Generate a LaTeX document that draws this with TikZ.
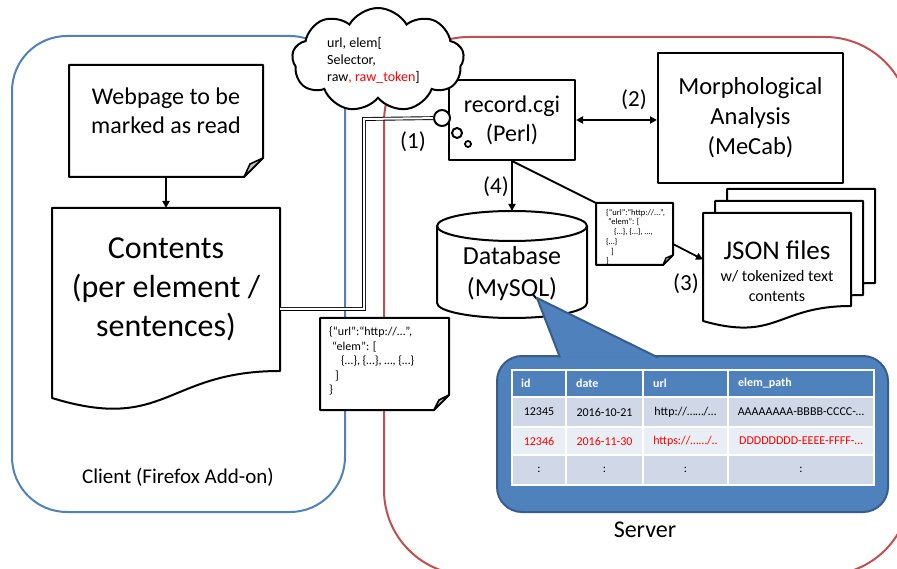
\documentclass[tikz,border=0pt]{standalone}
\usepackage{fontspec}
\setmainfont{Carlito}
\usetikzlibrary{calc,shapes.symbols,arrows.meta}
\definecolor{cblue}{HTML}{4F81BD}
\definecolor{cred}{HTML}{C0504D}
\definecolor{cdark}{HTML}{385D8A}
\definecolor{rowA}{HTML}{D0D8E8}
\definecolor{rowB}{HTML}{E9EDF4}
\definecolor{foldgray}{HTML}{BFBFBF}
\definecolor{tred}{HTML}{FF0000}
\newcommand{\myfs}[2]{\fontsize{#1}{#2}\selectfont}
\begin{document}
\begin{tikzpicture}[x=1pt,y=-1pt,
  outline/.style={draw=black, line width=2pt, fill=white, line join=round},
  anchorbox/.style={inner sep=0pt, outer sep=0pt, draw=none},
  foldst/.style={draw=black, line width=1.6pt, fill=foldgray, line join=round},
  conn/.style={line width=1.8pt, -{Triangle[length=7pt,width=7pt]}},
  dconn/.style={line width=1.8pt, {Triangle[length=7pt,width=7pt]}-{Triangle[length=7pt,width=7pt]}},
  dbl/.style={draw=black, double=white, double distance=2pt, line width=0.9pt},
  bubble/.style={circle, draw=black, fill=white, line width=2pt, inner sep=0pt},
  num/.style={font=\myfs{23}{28}},
  hdr/.style={font=\myfs{12}{14}\bfseries, text=white, anchor=west, inner sep=0pt},
  cell/.style={font=\myfs{12}{14}, inner sep=0pt},
  redcell/.style={font=\myfs{12}{14}, inner sep=0pt, text=tred}]
\useasboundingbox (0,0) rectangle (897,569);

% containers
\node[draw=cblue, line width=2pt, rounded corners=55pt, minimum width=333pt, minimum height=476pt, inner sep=0pt] (client) at (178.5,274) {};
\node[draw=cred, line width=2pt, rounded corners=85pt, minimum width=526pt, minimum height=538pt, inner sep=0pt] (server) at (647,306) {};

% webpage (folded corner)
\node[anchorbox, minimum width=194pt, minimum height=112pt] (web) at (166,121) {};
\draw[outline] (web.north west) -- (web.north east) -- ($(web.south east)+(0,-19)$) -- ($(web.south east)+(-19,0)$) -- (web.south west) -- cycle;
\draw[foldst] ($(web.south east)+(-19,0)$) -- ($(web.south east)+(0,-19)$) -- ($(web.south east)+(-13,-13)$) -- cycle;
\node[font=\myfs{24}{29}, align=center] (webtxt) at (166,111) {Webpage to be\\marked as read};

% contents (document)
\node[anchorbox, minimum width=228pt, minimum height=163pt] (contents) at (166,289.5) {};
\draw[outline] (contents.north west) -- (contents.north east) -- (contents.south east) .. controls (contents.south) and ($(contents.south)+(0,62)$) .. ($(contents.south west)+(0,27)$) -- cycle;
\node[font=\myfs{32}{39}, align=center] (contentstxt) at (contents.center) {Contents\\(per element /\\sentences)};

\draw[conn] (web.south) -- (contents.north);

% record.cgi and morphological analysis
\node[outline, minimum width=126pt, minimum height=80pt, inner sep=0pt, font=\myfs{24}{29}, align=center] (rec) at (512,120) {record.cgi\\(Perl)};
\node[outline, minimum width=185pt, minimum height=130pt, inner sep=0pt, font=\myfs{24.5}{30}, align=center] (morph) at (750.5,118) {Morphological\\Analysis\\(MeCab)};
\draw[dconn] (rec.east) -- (morph.west |- rec.east);
\node[num] (n2) at (634,100) {(2)};

% thought bubbles
\node[bubble, minimum size=16pt] (b1) at (442,118) {};
\node[bubble, minimum size=10pt] (b2) at (457,133) {};
\node[bubble, minimum size=6pt, line width=1.8pt] (b3) at (468,144) {};

% double connector from contents to record.cgi
\coordinate (bend) at (364,119);
\draw[dbl] ([yshift=-19.5pt]contents.east) -| (bend) -- (b1);
\node[num] (n1) at (413,142) {(1)};

% cloud
\node[cloud, cloud puffs=9, cloud puff arc=120, cloud ignores aspect, draw=black, fill=white, line width=2pt, minimum width=172pt, minimum height=104pt, inner sep=0pt] (cloud) at (378,60) {};
\node[font=\myfs{14}{17}, align=left, anchor=west, inner sep=0pt] (cloudtxt) at (327,60) {url, elem[\\Selector,\\raw\textcolor{tred}{, raw\_token}]};

% JSON note on the client side
\node[anchorbox, minimum width=129pt, minimum height=92pt] (note1) at (384.5,364) {};
\draw[outline] (note1.north west) -- (note1.north east) -- ($(note1.south east)+(0,-15)$) -- ($(note1.south east)+(-15,0)$) -- (note1.south west) -- cycle;
\draw[foldst] ($(note1.south east)+(-15,0)$) -- ($(note1.south east)+(0,-15)$) -- ($(note1.south east)+(-10,-10)$) -- cycle;
\node[font=\myfs{12}{14.5}, align=left, anchor=west, inner sep=0pt] (note1txt) at (329,361) {\{“url”:“http://…”,\\\hspace*{3pt}“elem”: [\\\hspace*{12pt}\{…\}, \{…\}, …, \{…\}\\\hspace*{6pt}]\\\}};

% database
\node[anchorbox, minimum width=150pt, minimum height=107pt] (db) at (512,264.5) {};
\draw[outline] ($(db.north west)+(0,15)$) -- ($(db.south west)+(0,-15)$) arc[start angle=180, end angle=0, x radius=75, y radius=15] -- ($(db.north east)+(0,15)$) arc[start angle=0, end angle=-180, x radius=75, y radius=15] -- cycle;
\draw[line width=2pt] ($(db.north west)+(0,15)$) arc[start angle=180, end angle=0, x radius=75, y radius=15];
\node[font=\myfs{26}{32}, align=center] (dbtxt) at (512,274) {Database\\(MySQL)};
\draw[conn] (rec.south) -- (db.north);
\node[num] (n4) at (496,187) {(4)};

% small JSON note on the server side
\node[anchorbox, minimum width=77pt, minimum height=62pt] (note2) at (634.5,234) {};
\draw[line width=1.8pt] (rec.south) -- (note2.north west);
\draw[outline] (note2.north west) -- (note2.north east) -- ($(note2.south east)+(0,-10)$) -- ($(note2.south east)+(-10,0)$) -- (note2.south west) -- cycle;
\draw[foldst, line width=1.4pt] ($(note2.south east)+(-10,0)$) -- ($(note2.south east)+(0,-10)$) -- ($(note2.south east)+(-7,-7)$) -- cycle;
\begin{scope}
\clip ($(note2.north west)+(2,2)$) rectangle ($(note2.south east)+(-2,-1.5)$);
\node[font=\myfs{8.5}{9.7}, align=left, anchor=west, inner sep=0pt] (note2txt) at (606,237) {\{“url”:“http://…”,\\\hspace*{2pt}“elem”: [\\\hspace*{8pt}\{…\}, \{…\}, …,\\\{…\}\\\hspace*{5pt}]\\\}};
\end{scope}

% JSON files stack
\node[anchorbox, minimum width=148pt, minimum height=94pt] (json3) at (801,236) {};
\node[anchorbox, minimum width=148pt, minimum height=94pt] (json2) at (789,248) {};
\node[anchorbox, minimum width=148pt, minimum height=93pt] (json1) at (777,259.5) {};
\foreach \j in {json3,json2,json1}{
  \draw[outline] (\j.north west) -- (\j.north east) -- (\j.south east) .. controls (\j.south) and ($(\j.south)+(0,36)$) .. ($(\j.south west)+(0,15)$) -- cycle;
}
\node[font=\myfs{27}{32}] (jsontitle) at (777,250) {JSON files};
\node[font=\myfs{16}{20}, align=center] (jsonsub) at (777,286) {w/ tokenized text\\contents};
\draw[conn] ([yshift=-10pt]note2.east) -- (json1.west);
\node[num] (n3) at (686,284) {(3)};

% callout with table
\node[anchorbox, minimum width=391pt, minimum height=156pt] (callout) at (692.5,434) {};
\coordinate (tip) at (537,298);
\path[fill=cblue, draw=cdark, line width=2pt, rounded corners=25pt] (callout.north west) rectangle (callout.south east);
\path[fill=cblue, draw=cdark, line width=2pt, line join=round] (560,357.5) -- (tip) -- (658,357.5);

\fill[cblue] (512,370) rectangle (874,397);
\fill[rowA] (512,397) rectangle (874,427);
\fill[rowB] (512,427) rectangle (874,455);
\fill[rowA] (512,455) rectangle (874,485);
\draw[white, line width=2pt] (512,370) rectangle (874,485);
\draw[white, line width=2.8pt] (512,397) -- (874,397);
\draw[white, line width=2pt] (512,427) -- (874,427) (512,455) -- (874,455);
\draw[white, line width=2pt] (566,370) -- (566,485) (643,370) -- (643,485) (728,370) -- (728,485);

\node[hdr] (hid) at (521,383) {id};
\node[hdr] (hdate) at (576,383) {date};
\node[hdr] (hurl) at (653,383) {url};
\node[hdr] (hpath) at (738,383) {elem\_path};

\node[cell] (r1a) at (539,412) {12345};
\node[cell] (r1b) at (604.5,412) {2016-10-21};
\node[cell] (r1c) at (685.5,412) {http://……/…};
\node[cell] (r1d) at (801,412) {AAAAAAAA-BBBB-CCCC-…};
\node[redcell] (r2a) at (539,441) {12346};
\node[redcell] (r2b) at (604.5,441) {2016-11-30};
\node[redcell] (r2c) at (685.5,441) {https://……/..};
\node[redcell] (r2d) at (801,441) {DDDDDDDD-EEEE-FFFF-…};
\node[cell] (r3a) at (539,470) {:};
\node[cell] (r3b) at (604.5,470) {:};
\node[cell] (r3c) at (685.5,470) {:};
\node[cell] (r3d) at (801,470) {:};

% container labels
\node[font=\myfs{21}{25}] (clientlbl) at (178,477) {Client (Firefox Add-on)};
\node[font=\myfs{24}{29}] (serverlbl) at (645,530) {Server};
\end{tikzpicture}
\end{document}
